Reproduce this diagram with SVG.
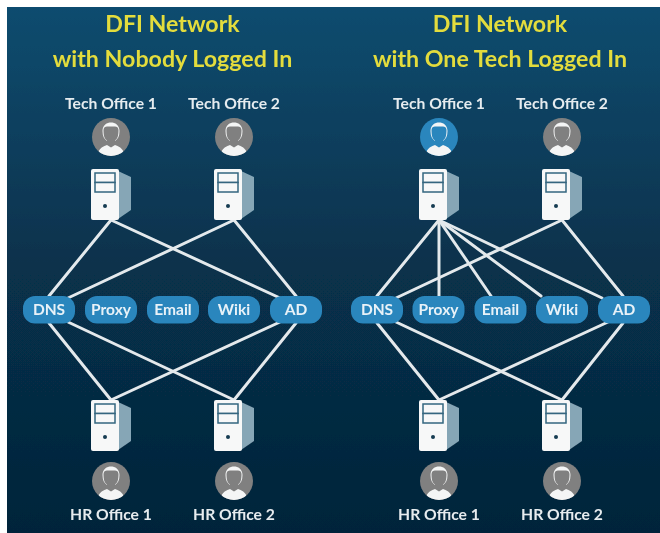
<svg xmlns="http://www.w3.org/2000/svg" width="660" height="533" viewBox="0 0 660 533">
<style>
.t{font-family:Lato,"Noto Sans",sans-serif;font-weight:700;text-anchor:middle}
.title{font-size:23.2px;fill:#e3dc3c}
.lab{font-size:15.7px;fill:#e6ecef}
.pt{font-size:15.5px;fill:#e8f2f8}
.pill{fill:#2b86bd}
.c line{stroke:#e4e9ec;stroke-width:3;stroke-linecap:round}
</style>
<defs>
<filter id="soft" x="0" y="0" width="100%" height="100%"><feGaussianBlur stdDeviation="0.55"/></filter>
<linearGradient id="bg" x1="0" y1="0" x2="0" y2="1"><stop offset="0" stop-color="#0f4c6f"/><stop offset=".5" stop-color="#07314b"/><stop offset="1" stop-color="#05243a"/></linearGradient>
<clipPath id="cc"><circle r="19"/></clipPath>
<path id="body" d="M-13 16.500C-12 11-7 9-4 8V4C-7 2-8.500-1-8.500-6C-8.500-12-4-14.500 0-14.500C4-14.500 8.500-12 8.500-6C8.500-1 7 2 4 4V8C7 9 12 11 13 16.500C9 18.500 4 19.500 0 19.500C-4 19.500-9 18.500-13 16.500Z" fill="#f4f5f5" clip-path="url(#cc)"/>
<path id="head" d="M-4 8V3.500C-6.500 2-7.500-1-7.500-7C-7.500-10-5-11-3-10.500H3C5-11 7.500-10 7.500-7C7.500-1 6.500 2 4 3.500V8L0 10.500Z"/>
<g id="pg"><circle r="19" fill="#808080"/><use href="#body"/><use href="#head" fill="#808080"/></g>
<g id="pb"><circle r="19" fill="#2b86bd"/><use href="#body"/><use href="#head" fill="#2b86bd"/></g>
<g id="srv">
<path d="M27 2L40 8V41L27 50Z" fill="#86a6b6"/>
<rect x="0" y="0" width="28" height="51" rx="2" fill="#f7f8f8"/>
<rect x="4" y="4" width="20" height="9.500" fill="#f7f8f8" stroke="#34667f" stroke-width="1.500"/>
<rect x="4" y="13.500" width="20" height="9.500" fill="#f7f8f8" stroke="#34667f" stroke-width="1.500"/>
<circle cx="14" cy="37" r="2" fill="#173c52"/>
</g>
</defs>
<rect x="0" y="0" width="660" height="533" fill="#fff"/>
<g filter="url(#soft)">
<rect x="7" y="7" width="653" height="526" fill="url(#bg)"/>
<g class="c" id="connectors">
<line x1="111" y1="220" x2="49" y2="296"/><line x1="111" y1="220" x2="280" y2="298"/><line x1="234" y1="220" x2="68" y2="298"/><line x1="234" y1="220" x2="296" y2="296"/>
<line x1="49" y1="323" x2="111" y2="400"/><line x1="68" y1="322" x2="234" y2="400"/><line x1="280" y1="322" x2="111" y2="400"/><line x1="296" y1="323" x2="234" y2="400"/>
<line x1="439" y1="220" x2="377" y2="296"/><line x1="439" y1="220" x2="439" y2="296"/><line x1="439" y1="220" x2="491" y2="296"/><line x1="439" y1="220" x2="541" y2="296"/><line x1="439" y1="220" x2="602" y2="298"/>
<line x1="562" y1="220" x2="396" y2="298"/><line x1="562" y1="220" x2="623" y2="296"/>
<line x1="377" y1="323" x2="439" y2="400"/><line x1="396" y1="322" x2="562" y2="400"/><line x1="608" y1="322" x2="439" y2="400"/><line x1="623" y1="323" x2="562" y2="400"/>
</g>
<g id="title-left"><text class="t title" x="172.500" y="32">DFI Network</text><text class="t title" x="172.500" y="67">with Nobody Logged In</text></g>
<g id="title-right"><text class="t title" x="500" y="32">DFI Network</text><text class="t title" x="500" y="67">with One Tech Logged In</text></g>
<g id="l-tech1"><text class="t lab" x="111" y="109">Tech Office 1</text><use href="#pg" x="111" y="137"/><use href="#srv" x="91" y="169"/></g>
<g id="l-tech2"><text class="t lab" x="234" y="109">Tech Office 2</text><use href="#pg" x="234" y="137"/><use href="#srv" x="214" y="169"/></g>
<g id="l-hr1"><use href="#srv" x="91" y="400"/><use href="#pg" x="111" y="481"/><text class="t lab" x="111" y="520">HR Office 1</text></g>
<g id="l-hr2"><use href="#srv" x="214" y="400"/><use href="#pg" x="234" y="481"/><text class="t lab" x="234" y="520">HR Office 2</text></g>
<g id="r-tech1"><text class="t lab" x="439" y="109">Tech Office 1</text><use href="#pb" x="439" y="137"/><use href="#srv" x="419" y="169"/></g>
<g id="r-tech2"><text class="t lab" x="562" y="109">Tech Office 2</text><use href="#pg" x="562" y="137"/><use href="#srv" x="542" y="169"/></g>
<g id="r-hr1"><use href="#srv" x="419" y="400"/><use href="#pg" x="439" y="481"/><text class="t lab" x="439" y="520">HR Office 1</text></g>
<g id="r-hr2"><use href="#srv" x="542" y="400"/><use href="#pg" x="562" y="481"/><text class="t lab" x="562" y="520">HR Office 2</text></g>
<g id="l-dns"><rect class="pill" x="23" y="296" width="52" height="27.500" rx="12"/><text class="t pt" x="49" y="314.500">DNS</text></g>
<g id="l-proxy"><rect class="pill" x="85" y="296" width="52" height="27.500" rx="12"/><text class="t pt" x="111" y="314.500">Proxy</text></g>
<g id="l-email"><rect class="pill" x="147" y="296" width="52" height="27.500" rx="12"/><text class="t pt" x="173" y="314.500">Email</text></g>
<g id="l-wiki"><rect class="pill" x="208" y="296" width="52" height="27.500" rx="12"/><text class="t pt" x="234" y="314.500">Wiki</text></g>
<g id="l-ad"><rect class="pill" x="270" y="296" width="52" height="27.500" rx="12"/><text class="t pt" x="296" y="314.500">AD</text></g>
<g id="r-dns"><rect class="pill" x="351" y="296" width="52" height="27.500" rx="12"/><text class="t pt" x="377" y="314.500">DNS</text></g>
<g id="r-proxy"><rect class="pill" x="412.500" y="296" width="52" height="27.500" rx="12"/><text class="t pt" x="438.500" y="314.500">Proxy</text></g>
<g id="r-email"><rect class="pill" x="474.500" y="296" width="52" height="27.500" rx="12"/><text class="t pt" x="500.500" y="314.500">Email</text></g>
<g id="r-wiki"><rect class="pill" x="536" y="296" width="52" height="27.500" rx="12"/><text class="t pt" x="562" y="314.500">Wiki</text></g>
<g id="r-ad"><rect class="pill" x="598" y="296" width="52" height="27.500" rx="12"/><text class="t pt" x="624" y="314.500">AD</text></g>
</g>
</svg>
